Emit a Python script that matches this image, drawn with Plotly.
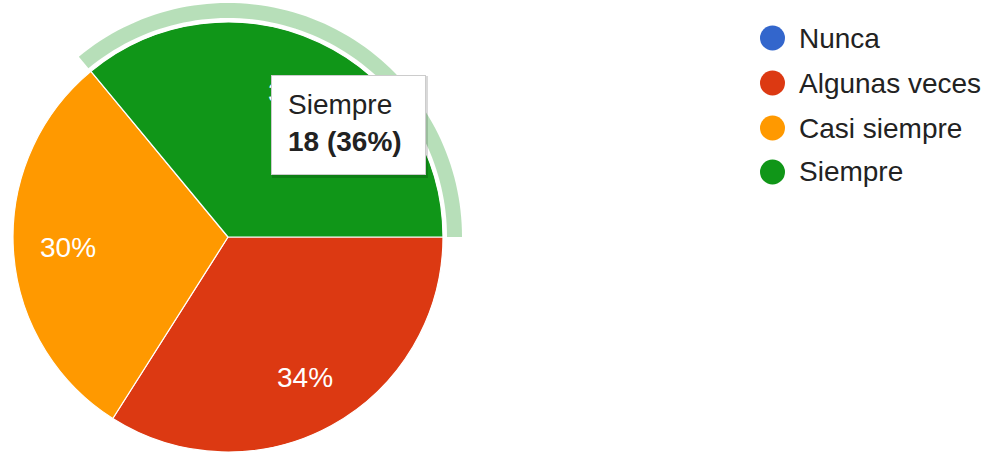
import numpy as np
import plotly.graph_objects as go

labels = ["Nunca", "Algunas veces", "Casi siempre", "Siempre"]
values = [0, 17, 15, 18]
colors = ["#3366cc", "#dc3912", "#ff9900", "#109618"]
highlight = "Siempre"

W, H = 996, 452
CX, CY, R = 228, 237, 215
FONT = "Liberation Sans, Arial, sans-serif"
FS = 28

def px(x):
    return x / W

def py(y):
    return 1 - y / H

total = sum(values)
pcts = [v / total * 100 for v in values]

fig = go.Figure()
fig.add_trace(go.Pie(
    labels=labels, values=values, sort=False, direction="clockwise", rotation=90,
    marker=dict(colors=colors, line=dict(color="white", width=1.2)),
    textinfo="none", hoverinfo="none", showlegend=False,
    domain=dict(x=[px(CX - R), px(CX + R)], y=[py(CY + R), py(CY - R)]),
))

cum = np.cumsum([0] + values)
starts = 90 + 360 * cum[:-1] / total
ends = 90 + 360 * cum[1:] / total

shapes = []
annotations = []

# halo around highlighted slice
hi = labels.index(highlight)
th = np.radians(np.linspace(starts[hi], ends[hi], 80))
r_in, r_out = R + 4, R + 19
xo = CX + r_out * np.sin(th); yo = CY - r_out * np.cos(th)
xi = CX + r_in * np.sin(th[::-1]); yi = CY - r_in * np.cos(th[::-1])
pts = list(zip(np.concatenate([xo, xi]), np.concatenate([yo, yi])))
path = "M " + " L ".join(f"{px(a):.5f},{py(b):.5f}" for a, b in pts) + " Z"
shapes.append(dict(type="path", path=path, xref="paper", yref="paper",
                   fillcolor="rgba(16,150,24,0.3)", line=dict(width=0), layer="above"))

# percentage labels
for lab, v, p, s, e in zip(labels, values, pcts, starts, ends):
    if v == 0:
        continue
    mid = np.radians((s + e) / 2)
    lx = CX + 160 * np.sin(mid); ly = CY - 160 * np.cos(mid)
    annotations.append(dict(x=px(lx), y=py(ly), xref="paper", yref="paper",
                            text=f"{p:.0f}%", showarrow=False,
                            font=dict(family=FONT, size=FS, color="white"),
                            xanchor="center", yanchor="middle"))

# tooltip
bx0, by0, bx1, by1 = 271, 75, 426, 175
shapes.append(dict(type="rect", xref="paper", yref="paper",
                   x0=px(bx0 + 1), x1=px(bx1 + 2), y0=py(by1 + 3), y1=py(by0 + 1),
                   fillcolor="rgba(0,0,0,0.15)", line=dict(width=0), layer="above"))
annotations.append(dict(x=px((bx0 + bx1) / 2), y=py((by0 + by1) / 2), xref="paper", yref="paper",
                        text=" ", showarrow=False, width=bx1 - bx0 - 2, height=by1 - by0 - 2,
                        bgcolor="white", bordercolor="#cccccc", borderwidth=1, borderpad=0,
                        xanchor="center", yanchor="middle"))
annotations.append(dict(x=px(286), y=py(104), xref="paper", yref="paper",
                        text=highlight, showarrow=False, xanchor="left", yanchor="middle",
                        font=dict(family=FONT, size=FS, color="#222222")))
annotations.append(dict(x=px(286), y=py(141), xref="paper", yref="paper",
                        text=f"<b>{values[hi]} ({pcts[hi]:.0f}%)</b>", showarrow=False,
                        xanchor="left", yanchor="middle",
                        font=dict(family=FONT, size=FS, color="#222222")))

# legend
leg_y = [38, 83, 128, 172]
for lab, col, ly in zip(labels, colors, leg_y):
    shapes.append(dict(type="circle", xref="paper", yref="paper",
                       x0=px(760), x1=px(785), y0=py(ly + 12.5), y1=py(ly - 12.5),
                       fillcolor=col, line=dict(width=0)))
    annotations.append(dict(x=px(797), y=py(ly), xref="paper", yref="paper",
                            text=lab, showarrow=False, xanchor="left", yanchor="middle",
                            font=dict(family=FONT, size=FS, color="#222222")))

fig.update_layout(width=W, height=H, margin=dict(l=0, r=0, t=0, b=0),
                  paper_bgcolor="white", plot_bgcolor="white",
                  shapes=shapes, annotations=annotations)
fig.write_html("out.html", config={"displayModeBar": False},
               post_script="document.body.style.margin='0';")
